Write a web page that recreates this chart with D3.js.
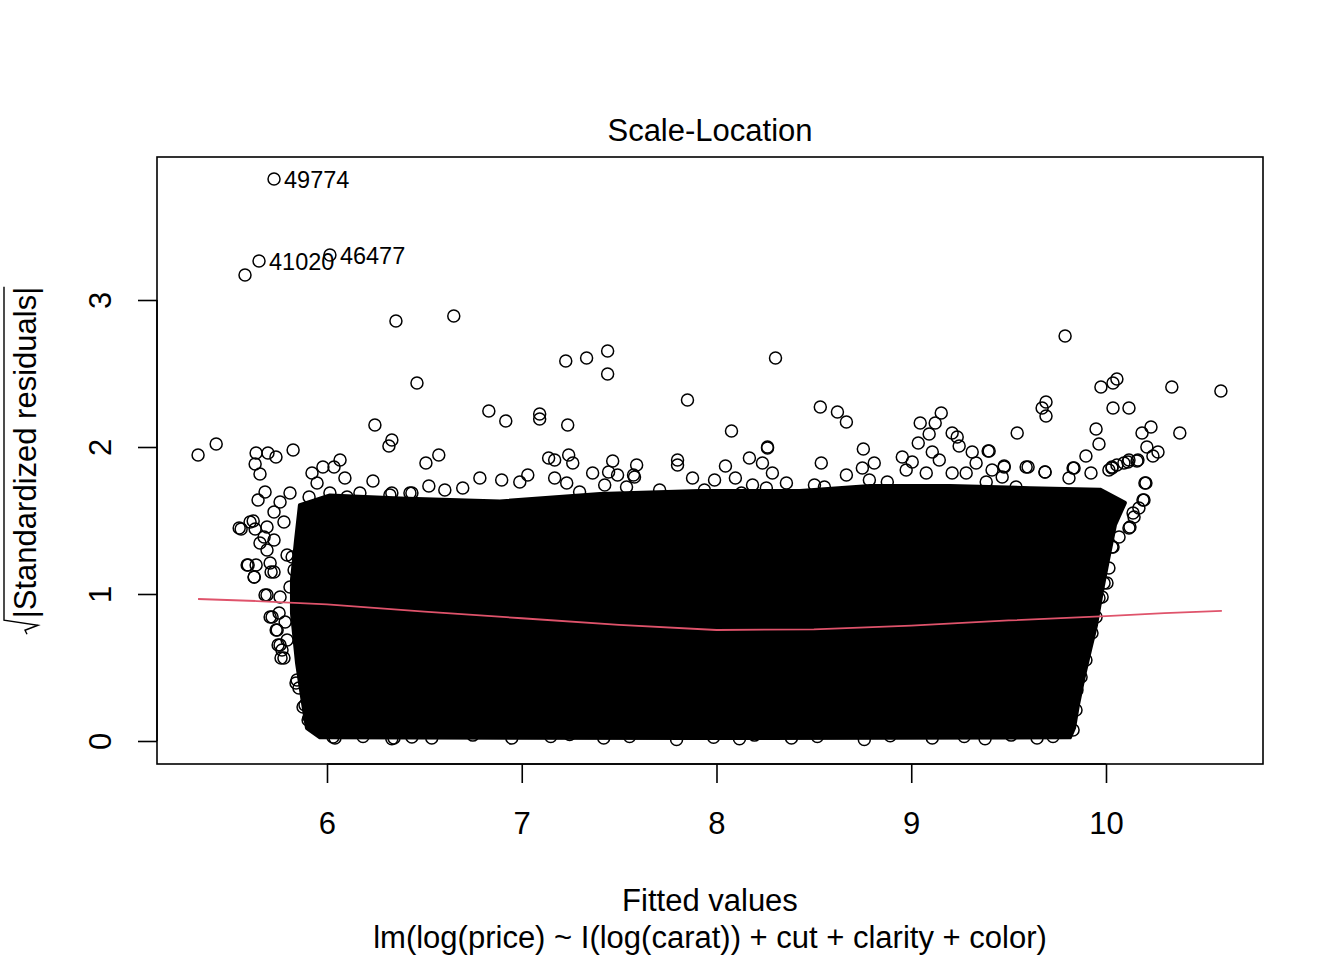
<!DOCTYPE html>
<html lang="en">
<head>
<meta charset="UTF-8">
<title>Scale-Location</title>
<style>
  body { margin: 0; background: #fff; }
  text { font-family: "Liberation Sans", Arial, sans-serif; fill: #000; }
</style>
</head>
<body>
<script src="https://cdn.jsdelivr.net/npm/d3@7"></script>
<script>
// fitted values / sqrt(|standardized residuals|) of the points visible outside the dense band
var fitted = [
  5.728, 5.651, 6.015, 5.579, 6.354, 6.651, 6.462, 6.831, 6.918, 7.092, 7.092, 6.246, 6.333, 6.318,
  5.338, 5.431, 5.636, 5.697, 5.738, 5.826, 5.631, 5.656, 6.508, 6.574, 6.067,
  7.226, 7.333, 7.441, 7.441, 7.851, 7.236, 7.138, 7.169, 7.241, 7.262, 7.364, 7.467, 7.590, 7.800,
  7.800, 7.446, 7.492, 7.574, 7.031, 6.785, 6.897, 6.523,
  8.303, 8.533, 8.621, 8.667, 8.077, 8.262, 8.262, 9.154, 9.046, 9.123, 9.092, 9.036, 9.210, 9.236,
  9.246, 9.544, 8.754, 9.395, 9.313, 8.538, 8.169, 8.046, 8.097, 9.477, 9.590, 8.954, 9.005, 9.108,
  9.144, 9.333, 8.810, 8.749, 8.287, 8.236,
  9.790, 9.974, 10.036, 10.056, 10.338, 10.590, 9.672, 9.692, 9.692, 10.036, 10.118, 9.949, 9.964,
  10.185, 10.231, 10.379, 10.210, 10.267, 10.241, 9.897, 10.159, 10.118, 10.092, 10.031, 10.015,
  9.836, 9.923, 9.810, 10.200, 10.195, 10.169, 10.144, 10.118, 10.067, 10.031, 10.015, 9.990, 9.964,
  9.600, 9.687, 9.477, 9.400, 9.415, 9.949, 9.928, 9.897, 9.872, 9.851, 9.846, 9.831,
  9.687, 9.831, 10.031, 10.056, 10.113, 10.164, 10.205, 10.190, 10.139, 10.123, 10.036, 10.005, 9.980,
  6.333, 6.436, 6.605, 6.697, 6.990, 7.169, 7.231, 7.297, 7.426, 7.538, 7.579, 7.708, 7.877, 7.938,
  7.990, 8.128, 8.185, 8.256, 8.359, 8.503, 8.554, 8.667, 8.785, 8.877, 8.974, 9.077, 9.210, 9.282,
  9.385, 9.467, 9.538,
  5.923, 5.979, 6.036, 5.949, 6.092, 6.236, 5.682, 5.646, 5.810, 5.549, 5.605, 5.631, 5.692, 5.656,
  5.728, 5.595, 5.626, 5.636, 5.708, 5.728, 5.692, 5.718, 5.744, 5.759, 5.779, 5.846, 5.856, 5.887,
  5.908, 5.959, 6.041, 6.344, 6.436, 6.538,
  5.759, 5.908, 6.015, 6.103, 6.169, 6.323, 6.426, 5.728, 5.779, 5.677, 5.692, 5.795, 5.821, 5.831,
  5.882, 5.810, 5.759, 5.754, 5.785, 5.795, 5.769,
  5.559, 5.621, 5.590, 5.626, 5.713, 5.682, 5.708, 5.739, 5.749, 5.764, 5.841, 5.877, 5.903, 6.031,
  6.185, 6.333, 6.749, 6.949, 7.149, 7.246, 7.421, 7.554, 7.795, 7.985, 8.118, 8.195, 8.385, 8.518,
  8.759, 8.892, 9.108, 9.272, 9.379, 9.513, 9.646, 9.728
];
var sqrtStdRes = [
  3.823, 3.265, 3.306, 3.170, 2.857, 2.891, 2.435, 2.245, 2.177, 2.224, 2.190, 2.150, 2.048, 2.007,
  1.946, 2.020, 1.959, 1.959, 1.932, 1.980, 1.884, 1.816, 1.891, 1.946, 1.912,
  2.585, 2.605, 2.653, 2.497, 2.320, 2.150, 1.925, 1.912, 1.946, 1.891, 1.823, 1.905, 1.878, 1.912,
  1.878, 1.830, 1.810, 1.810, 1.810, 1.789, 1.776, 1.735,
  2.605, 2.272, 2.238, 2.170, 2.109, 2.000, 1.993, 2.231, 2.163, 2.163, 2.088, 2.027, 2.095, 2.068,
  2.007, 2.095, 1.986, 1.973, 1.966, 1.891, 1.925, 1.871, 1.789, 1.871, 1.864, 1.932, 1.898, 1.966,
  1.912, 1.891, 1.891, 1.857, 1.823, 1.891,
  2.755, 2.408, 2.435, 2.463, 2.408, 2.381, 2.265, 2.306, 2.211, 2.265, 2.265, 2.122, 2.020,
  2.095, 2.136, 2.095, 2.000, 1.966, 1.939, 1.939, 1.905, 1.912, 1.891, 1.864, 1.844,
  1.857, 1.823, 1.789, 1.755, 1.639, 1.585, 1.524, 1.449, 1.388, 1.320, 1.177, 1.075, 0.973,
  1.864, 1.830, 1.864, 1.973, 1.844, 0.844, 0.735, 0.551, 0.435, 0.347, 0.211, 0.075,
  1.830, 1.857, 1.857, 1.878, 1.898, 1.912, 1.755, 1.639, 1.551, 1.456, 1.320, 1.075, 0.980,
  1.687, 1.687, 1.707, 1.721, 1.762, 1.789, 1.755, 1.694, 1.741, 1.728, 1.796, 1.707, 1.789, 1.707,
  1.776, 1.687, 1.741, 1.721, 1.755, 1.741, 1.728, 1.810, 1.776, 1.762, 1.844, 1.823, 1.823, 1.823,
  1.762, 1.796, 1.728,
  1.823, 1.864, 1.864, 1.755, 1.789, 1.769, 1.694, 1.639, 1.687, 1.449, 1.490, 1.442, 1.456, 1.347,
  1.367, 1.197, 1.116, 1.197, 1.211, 1.150, 0.993, 0.844, 0.755, 0.653, 0.565, 0.415, 0.361, 0.245,
  0.163, 0.075, 0.020, 0.020, 0.027, 0.020,
  1.626, 1.660, 1.687, 1.660, 1.687, 1.673, 1.687, 1.558, 1.490, 1.388, 1.299, 1.265, 1.252, 1.163,
  1.197, 1.048, 0.980, 0.871, 0.810, 0.687, 0.619,
  1.442, 1.497, 1.197, 1.116, 1.150, 0.993, 0.844, 0.755, 0.653, 0.565, 0.395, 0.231, 0.143, 0.027,
  0.030, 0.015, 0.040, 0.020, 0.030, 0.045, 0.020, 0.030, 0.010, 0.025, 0.015, 0.040, 0.020, 0.030,
  0.010, 0.035, 0.020, 0.030, 0.015, 0.040, 0.020, 0.030
];

// the ~54k points inside this outline overplot into solid black
var bandX = [5.861, 6.015, 6.375, 6.888, 7.402, 7.915, 8.429, 8.788, 9.199, 9.610, 9.969, 10.097,
             10.046, 10.010, 9.980, 9.949, 9.918, 9.882, 9.856, 9.836, 9.815, 7.915, 5.964,
             5.897, 5.872, 5.846, 5.820, 5.820, 5.841];
var bandY = [1.605, 1.670, 1.650, 1.630, 1.680, 1.700, 1.700, 1.735, 1.735, 1.720, 1.710, 1.620,
             1.469, 1.231, 1.027, 0.789, 0.619, 0.415, 0.245, 0.088, 0.025, 0.020, 0.025,
             0.088, 0.299, 0.531, 0.871, 1.095, 1.367];

// labelled extreme observations
var idLabels = ["49774", "41020", "46477"];
var idX = [5.728, 5.651, 6.015];
var idY = [3.823, 3.265, 3.306];

// smoother through the points
var smoothX = [5.338, 5.64, 6.0, 6.5, 7.0, 7.5, 8.0, 8.5, 9.0, 9.5, 10.0, 10.3, 10.595];
var smoothY = [0.966, 0.952, 0.930, 0.880, 0.835, 0.790, 0.755, 0.760, 0.785, 0.820, 0.850, 0.870, 0.885];

var xTicks = [6, 7, 8, 9, 10];
var yTicks = [0, 1, 2, 3];

var W = 1344, H = 960;
var box = {l: 157, r: 1263, t: 157, b: 764};
var fs = 31;

var x = d3.scaleLinear().domain([5.1271, 10.8062]).range([box.l, box.r]);
var y = d3.scaleLinear().domain([-0.1565, 3.9728]).range([box.b, box.t]);

var svg = d3.select("body").append("svg").attr("width", W).attr("height", H);

var plot = svg.append("g");

// dense band
var band = d3.range(bandX.length).map(function(i) { return [bandX[i], bandY[i]]; });
plot.append("path")
    .attr("d", d3.line().x(function(d) { return x(d[0]); }).y(function(d) { return y(d[1]); })
        .curve(d3.curveLinearClosed)(band))
    .attr("fill", "#000").attr("stroke", "#000").attr("stroke-width", 4).attr("stroke-linejoin", "round");

plot.selectAll("circle.pt").data(d3.range(fitted.length)).enter().append("circle")
    .attr("class", "pt")
    .attr("cx", function(i) { return x(fitted[i]); })
    .attr("cy", function(i) { return y(sqrtStdRes[i]); })
    .attr("r", 6)
    .attr("fill", "none").attr("stroke", "#000").attr("stroke-width", 1.5);

// smoother
var sm = d3.range(smoothX.length).map(function(i) { return [smoothX[i], smoothY[i]]; });
plot.append("path")
    .attr("d", d3.line().x(function(d) { return x(d[0]); }).y(function(d) { return y(d[1]); })(sm))
    .attr("fill", "none").attr("stroke", "#DF536B").attr("stroke-width", 1.8);

// id labels
idLabels.forEach(function(lab, i) {
    plot.append("text").attr("x", x(idX[i]) + 10).attr("y", y(idY[i]) + 8.5)
        .attr("font-size", 23.5).text(lab);
});

// box
svg.append("rect").attr("x", box.l).attr("y", box.t)
    .attr("width", box.r - box.l).attr("height", box.b - box.t)
    .attr("fill", "none").attr("stroke", "#000").attr("stroke-width", 1.6);

// x axis
var xa = svg.append("g").attr("transform", "translate(0," + box.b + ")")
    .call(d3.axisBottom(x).tickValues(xTicks).tickSize(19).tickPadding(0).tickFormat(d3.format("d")));
xa.select(".domain").attr("d", "M" + x(6) + ",0H" + x(10)).attr("stroke-width", 1.6);
xa.selectAll(".tick line").attr("stroke-width", 1.6);
xa.selectAll(".tick text").attr("font-size", fs).attr("y", 70).attr("dy", null)
    .style("font-family", '"Liberation Sans", Arial, sans-serif');

// y axis
var ya = svg.append("g").attr("transform", "translate(" + box.l + ",0)")
    .call(d3.axisLeft(y).tickValues(yTicks).tickSize(19).tickFormat(d3.format("d")));
ya.select(".domain").attr("d", "M0," + y(0) + "V" + y(3)).attr("stroke-width", 1.6);
ya.selectAll(".tick line").attr("stroke-width", 1.6);
ya.selectAll(".tick text").remove();
ya.selectAll(".tick").append("text")
    .attr("transform", "translate(-46,0) rotate(-90)")
    .attr("text-anchor", "middle").attr("font-size", fs)
    .style("font-family", '"Liberation Sans", Arial, sans-serif')
    .text(function(d) { return d; });

// titles
svg.append("text").attr("x", (box.l + box.r) / 2).attr("y", 141)
    .attr("text-anchor", "middle").attr("font-size", fs).text("Scale-Location");
svg.append("text").attr("x", (box.l + box.r) / 2).attr("y", 911)
    .attr("text-anchor", "middle").attr("font-size", fs).text("Fitted values");
svg.append("text").attr("x", (box.l + box.r) / 2).attr("y", 948)
    .attr("text-anchor", "middle").attr("font-size", fs)
    .text("lm(log(price) ~ I(log(carat)) + cut + clarity + color)");

// y label with radical sign
var yl = svg.append("g").attr("transform", "translate(36," + ((box.t + box.b) / 2) + ") rotate(-90)");
var ylt = yl.append("text").attr("font-size", fs).attr("x", 0).attr("y", 0).text("|Standardized residuals|");
var tw = ylt.node().getComputedTextLength();
var rw = 16;
var u0 = -(tw + rw) / 2;
ylt.attr("x", u0 + rw);
yl.append("path")
    .attr("d", "M" + u0 + ",-9L" + (u0 + 4) + ",-11L" + (u0 + 9) + ",2L" + (u0 + 14) + ",-32L" + (u0 + rw + tw) + ",-32")
    .attr("fill", "none").attr("stroke", "#000").attr("stroke-width", 1.4);
</script>
</body>
</html>
